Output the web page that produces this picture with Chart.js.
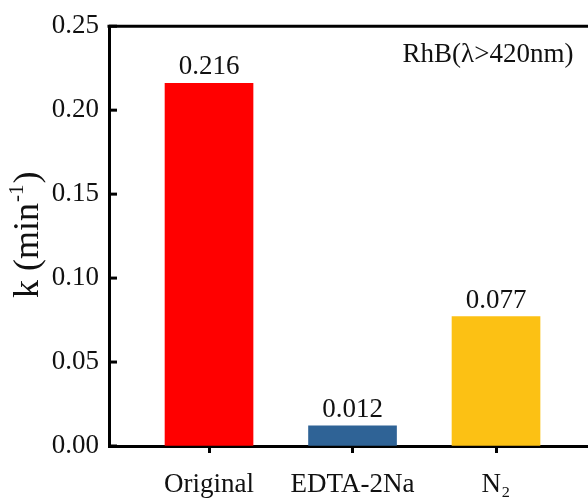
<!DOCTYPE html>
<html>
<head>
<meta charset="utf-8">
<script src="https://cdn.jsdelivr.net/npm/chart.js@4"></script>
<style>
  html, body { margin: 0; padding: 0; background: #fff; overflow: hidden; }
  #wrap { width: 588px; height: 499px; }
</style>
</head>
<body>
<div id="wrap"><canvas id="rateChart" width="588" height="499"></canvas></div>
<script>
const categories = ["Original", "EDTA-2Na", "N\u2082"];
const rateValues = [0.216, 0.012, 0.077];
const barColors = ["#FF0000", "#2F6396", "#FCC114"];
const yTicks = [0, 0.05, 0.10, 0.15, 0.20, 0.25];
const noteText = "RhB(\u03bb>420nm)";
const yTitle = "k (min";
const yTitleSup = "-1";

const FONT = "'Liberation Serif', 'Times New Roman', serif";

// extra bits: top frame line, inward y ticks, value labels, note, y title
const decorations = {
  id: "decorations",
  afterDraw(c) {
    const ctx = c.ctx;
    const area = c.chartArea;
    const y = c.scales.y;
    ctx.save();
    ctx.strokeStyle = "#000";
    ctx.lineWidth = 3;
    ctx.beginPath();
    ctx.moveTo(area.left - 1.5, area.top);
    ctx.lineTo(area.right, area.top);
    ctx.stroke();

    y.ticks.forEach((t, i) => {
      const py = y.getPixelForTick(i);
      ctx.beginPath();
      ctx.moveTo(area.left, py);
      ctx.lineTo(area.left + 8, py);
      ctx.stroke();
    });

    ctx.fillStyle = "#111";
    ctx.font = "27px " + FONT;
    ctx.textAlign = "center";
    ctx.textBaseline = "alphabetic";
    c.getDatasetMeta(0).data.forEach((bar, i) => {
      ctx.fillText(rateValues[i].toFixed(3), bar.x, bar.y - 9);
    });

    ctx.font = "27px " + FONT;
    ctx.fillText(noteText, 488, 62);

    // rotated y title with superscript
    ctx.translate(38, 298);
    ctx.rotate(-Math.PI / 2);
    ctx.textAlign = "left";
    ctx.font = "36px " + FONT;
    ctx.fillText(yTitle, 0, 0);
    let w = ctx.measureText(yTitle).width;
    ctx.font = "21px " + FONT;
    ctx.fillText(yTitleSup, w + 1, -15);
    w += ctx.measureText(yTitleSup).width + 2;
    ctx.font = "36px " + FONT;
    ctx.fillText(")", w, 0);
    ctx.restore();
  }
};

const ctx = document.getElementById("rateChart").getContext("2d");
new Chart(ctx, {
  type: "bar",
  data: {
    datasets: [{
      data: rateValues.map((v, i) => ({ x: i, y: v })),
      backgroundColor: barColors,
      borderWidth: 0,
      barThickness: 88
    }]
  },
  options: {
    responsive: false,
    animation: false,
    layout: { padding: { top: 26, left: 0, right: 0, bottom: 0 } },
    plugins: {
      legend: { display: false },
      tooltip: { enabled: false }
    },
    scales: {
      x: {
        type: "linear",
        min: -0.697,
        max: 2.641,
        offset: false,
        afterFit: s => { s.height = 53; },
        afterBuildTicks: s => { s.ticks = categories.map((c, i) => ({ value: i })); },
        grid: {
          offset: false,
          drawOnChartArea: false,
          drawTicks: true,
          tickLength: 7,
          tickWidth: 3,
          tickColor: "#000"
        },
        border: { display: true, color: "#000", width: 3 },
        ticks: {
          padding: 16,
          maxRotation: 0,
          autoSkip: false,
          color: "#111",
          font: { family: FONT, size: 27 },
          callback: v => categories[v]
        }
      },
      y: {
        min: 0,
        max: 0.25,
        afterFit: s => { s.width = 109; },
        afterBuildTicks: s => { s.ticks = yTicks.map(v => ({ value: v })); },
        grid: { drawOnChartArea: false, drawTicks: false },
        border: { display: true, color: "#000", width: 3 },
        ticks: {
          padding: 10,
          color: "#111",
          font: { family: FONT, size: 27 },
          callback: v => v.toFixed(2)
        }
      }
    }
  },
  plugins: [decorations]
});
</script>
</body>
</html>
